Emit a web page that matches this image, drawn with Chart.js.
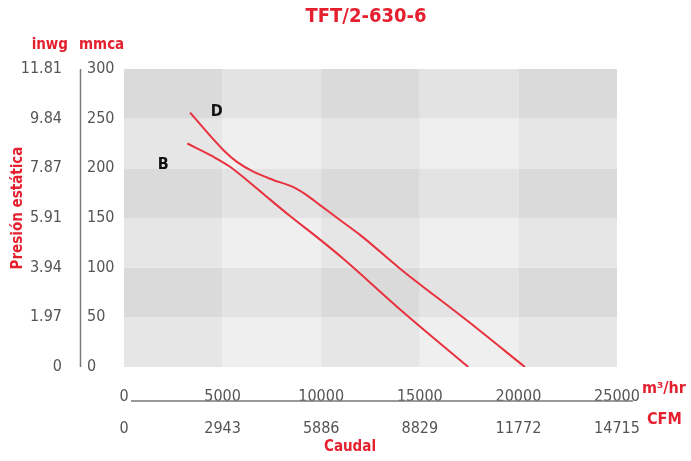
<!DOCTYPE html>
<html lang="es">
<head>
  <meta charset="UTF-8">
  <title>TFT/2-630-6</title>
  <script src="https://cdn.jsdelivr.net/npm/chart.js"></script>
  <style>
    html, body { margin: 0; padding: 0; background: #fff; }
    #wrap { width: 691px; height: 461px; position: relative; }
  </style>
</head>
<body>
  <div id="wrap"><canvas id="curve"></canvas></div>

  <script>
    const FONT = "'Liberation Sans Narrow', 'DejaVu Sans Condensed', 'Arial Narrow', sans-serif";
    const RED = '#e4202f';
    const LINE_RED = '#e8323e';
    const GREY = '#555555';

    // fan curves: flow in m3/hr, pressure in mmca
    const flowB = [3210, 4530, 5375, 6220, 7235, 8420, 9770, 11120, 14000, 17460];
    const pressB = [225, 211.7, 201.6, 188.3, 171.4, 152, 131, 109, 58, 0];
    const flowD = [3350, 5035, 5710, 6560, 7570, 8590, 9265, 9940, 10950, 11970, 14000, 17380, 20330];
    const pressD = [256, 218.5, 206.7, 196.6, 188.3, 181, 173, 163, 148, 133, 99, 47, 0];

    // curve name labels
    const curveNames = ['B', 'D'];
    const nameFlow = [1990, 4700];
    const namePress = [204, 257];

    // tick labels
    const mmcaTicks = ['0', '50', '100', '150', '200', '250', '300'];
    const inwgTicks = ['0', '1.97', '3.94', '5.91', '7.87', '9.84', '11.81'];
    const flowTicks = ['0', '5000', '10000', '15000', '20000', '25000'];
    const cfmTicks = ['0', '2943', '5886', '8829', '11772', '14715'];

    const toPoints = (xs, ys) => xs.map((x, i) => ({ x: x, y: ys[i] }));

    // checkerboard behind the plot
    const backdrop = {
      id: 'backdrop',
      beforeDraw(chart) {
        const { ctx, scales: { x, y } } = chart;
        const cols = ['#dadada', '#e3e3e3', '#e6e6e6', '#efefef'];
        ctx.save();
        for (let i = 0; i < 6; i++) {
          for (let j = 0; j < 5; j++) {
            const rowDark = i % 2 === 1;
            const colDark = j % 2 === 0;
            let c = cols[3];
            if (rowDark && colDark) c = cols[0];
            else if (rowDark) c = cols[1];
            else if (colDark) c = cols[2];
            const x0 = x.getPixelForValue(j * 5000);
            const x1 = x.getPixelForValue((j + 1) * 5000);
            const y0 = y.getPixelForValue((i + 1) * 50);
            const y1 = y.getPixelForValue(i * 50);
            ctx.fillStyle = c;
            ctx.fillRect(x0, y0, x1 - x0, y1 - y0);
          }
        }
        ctx.restore();
      }
    };

    // axis captions, separator lines and curve names
    const captions = {
      id: 'captions',
      afterDraw(chart) {
        const { ctx, chartArea: a, scales: { x, y } } = chart;
        ctx.save();

        ctx.strokeStyle = '#7a7a7a';
        ctx.lineWidth = 1.5;
        ctx.beginPath();
        ctx.moveTo(80.5, a.top);
        ctx.lineTo(80.5, a.bottom);
        ctx.moveTo(a.left + 7, 401);
        ctx.lineTo(a.right + 16, 401);
        ctx.stroke();

        ctx.fillStyle = RED;
        ctx.textBaseline = 'middle';
        ctx.font = 'bold 20px ' + FONT;
        ctx.textAlign = 'center';
        ctx.fillText('TFT/2-630-6', 366, 17);

        ctx.font = 'bold 15px ' + FONT;
        ctx.textAlign = 'right';
        ctx.fillText('inwg', 68, 45);
        ctx.textAlign = 'left';
        ctx.fillText('mmca', 79, 45);
        ctx.font = 'bold 16px ' + FONT;
        ctx.fillText('m³/hr', a.right + 25, 389);
        ctx.fillText('CFM', a.right + 30, 420);
        ctx.font = 'bold 15px ' + FONT;
        ctx.textAlign = 'center';
        ctx.fillText('Caudal', 350, 447);

        ctx.save();
        ctx.translate(18, 208);
        ctx.rotate(-Math.PI / 2);
        ctx.fillText('Presión estática', 0, 0);
        ctx.restore();

        ctx.fillStyle = '#111';
        ctx.font = 'bold 16px ' + FONT;
        curveNames.forEach((n, i) => {
          ctx.fillText(n, x.getPixelForValue(nameFlow[i]), y.getPixelForValue(namePress[i]));
        });
        ctx.restore();
      }
    };

    const tickFont = { family: FONT, size: 16 };

    new Chart(document.getElementById('curve'), {
      type: 'scatter',
      data: {
        datasets: [
          { label: 'B', data: toPoints(flowB, pressB) },
          { label: 'D', data: toPoints(flowD, pressD) }
        ].map(d => Object.assign(d, {
          showLine: true,
          borderColor: LINE_RED,
          borderWidth: 2,
          pointRadius: 0,
          cubicInterpolationMode: 'monotone',
          xAxisID: 'x',
          yAxisID: 'y'
        }))
      },
      options: {
        responsive: true,
        maintainAspectRatio: false,
        animation: false,
        devicePixelRatio: 1,
        layout: { padding: { top: 69, right: 74, bottom: 0, left: 0 } },
        plugins: {
          legend: { display: false },
          tooltip: { enabled: false },
          title: { display: false }
        },
        scales: {
          x: {
            type: 'linear', position: 'bottom', weight: 0,
            min: 0, max: 25000,
            grid: { display: false }, border: { display: false },
            ticks: { stepSize: 5000, color: GREY, font: tickFont, padding: 12, maxRotation: 0, autoSkip: false,
              callback: (v, i) => flowTicks[i] },
            afterFit: s => { s.height = 34; }
          },
          x2: {
            type: 'linear', position: 'bottom', weight: 1,
            min: 0, max: 25000,
            grid: { display: false }, border: { display: false },
            ticks: { stepSize: 5000, color: GREY, font: tickFont, padding: 10, maxRotation: 0, autoSkip: false,
              callback: (v, i) => cfmTicks[i] },
            afterFit: s => { s.height = 60; }
          },
          y: {
            type: 'linear', position: 'left', weight: 0,
            min: 0, max: 300,
            grid: { display: false }, border: { display: false },
            ticks: { stepSize: 50, color: GREY, font: tickFont, crossAlign: 'far',
              callback: (v, i) => mmcaTicks[i] },
            afterFit: s => { s.width = 37; }
          },
          y2: {
            type: 'linear', position: 'left', weight: 1,
            min: 0, max: 300,
            grid: { display: false }, border: { display: false },
            ticks: { stepSize: 50, color: GREY, font: tickFont, padding: 17,
              callback: (v, i) => inwgTicks[i] },
            afterFit: s => { s.width = 87; }
          }
        }
      },
      plugins: [backdrop, captions]
    });
  </script>
</body>
</html>
